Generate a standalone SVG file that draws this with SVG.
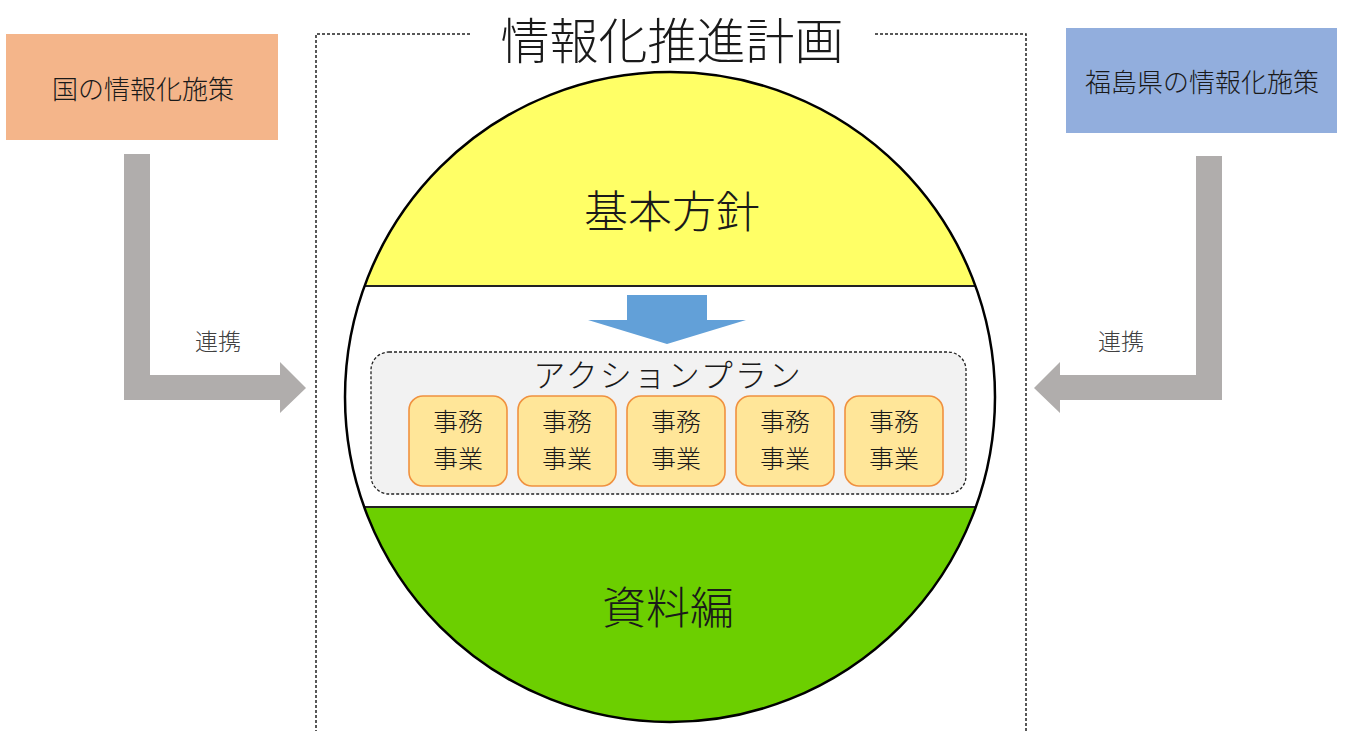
<svg xmlns="http://www.w3.org/2000/svg" width="1347" height="731" viewBox="0 0 1347 731">
<style>
.t{font-family:"Noto Sans CJK JP","Noto Sans CJK SC",sans-serif;font-weight:300;dominant-baseline:central;text-anchor:middle;fill:#1a1a1a}
.link{fill:#B0ADAC}
.task{fill:#FFE699;stroke:#F0913F;stroke-width:1.6}
.dash{fill:none;stroke:#222;stroke-width:1.5;stroke-dasharray:3 2}
</style>
<defs>
<clipPath id="cc"><circle cx="670" cy="397" r="325"/></clipPath>
</defs>
<rect width="1347" height="731" fill="#fff"/>
<g id="frame">
<path class="dash" d="M470 34H316V731M875 34H1026V731"/>
<text class="t" x="672" y="37" font-size="49">情報化推進計画</text>
</g>
<g id="connectors">
<polygon class="link" points="124,154 150,154 150,375 280,375 280,362 306,388 280,413 280,400 124,400"/>
<polygon class="link" points="1222,156 1196,156 1196,375 1060,375 1060,362 1034,388 1060,413 1060,400 1222,400"/>
<text class="t" x="218" y="340" font-size="23" style="fill:#404040">連携</text>
<text class="t" x="1121" y="340" font-size="23" style="fill:#404040">連携</text>
</g>
<g id="national">
<rect x="6" y="34" width="272" height="106" fill="#F4B58A"/>
<text class="t" x="143" y="87" font-size="26">国の情報化施策</text>
</g>
<g id="fukushima">
<rect x="1066" y="28" width="271" height="105" fill="#92AEDD"/>
<text class="t" x="1202" y="80" font-size="26">福島県の情報化施策</text>
</g>
<g id="plan-circle">
<circle cx="670" cy="397" r="325" fill="#fff"/>
<g clip-path="url(#cc)">
<rect x="300" y="60" width="760" height="226" fill="#FFFF66"/>
<rect x="300" y="507" width="760" height="230" fill="#6CCF00"/>
</g>
<line x1="364" y1="286" x2="976" y2="286" stroke="#222" stroke-width="2"/>
<line x1="364" y1="507" x2="976" y2="507" stroke="#222" stroke-width="2"/>
<circle cx="670" cy="397" r="325" fill="none" stroke="#000" stroke-width="2.5"/>
</g>
<g id="basic-policy">
<text class="t" x="672" y="209" font-size="44">基本方針</text>
</g>
<g id="flow-arrow">
<polygon points="627,295 707,295 707,320 746,320 667,344 588,320 627,320" fill="#62A0D8"/>
</g>
<g id="action-plan">
<rect class="dash" x="371" y="352" width="595" height="142" rx="18" style="fill:#F2F2F2;stroke-width:1.3"/>
<text class="t" x="668" y="373" font-size="32" letter-spacing="2">アクションプラン</text>
</g>
<g id="task1"><rect class="task" x="409" y="396" width="98" height="90" rx="14"/><text class="t" font-size="25"><tspan x="458" y="420">事務</tspan><tspan x="458" y="457">事業</tspan></text></g>
<g id="task2"><rect class="task" x="518" y="396" width="98" height="90" rx="14"/><text class="t" font-size="25"><tspan x="567" y="420">事務</tspan><tspan x="567" y="457">事業</tspan></text></g>
<g id="task3"><rect class="task" x="627" y="396" width="98" height="90" rx="14"/><text class="t" font-size="25"><tspan x="676" y="420">事務</tspan><tspan x="676" y="457">事業</tspan></text></g>
<g id="task4"><rect class="task" x="736" y="396" width="98" height="90" rx="14"/><text class="t" font-size="25"><tspan x="785" y="420">事務</tspan><tspan x="785" y="457">事業</tspan></text></g>
<g id="task5"><rect class="task" x="845" y="396" width="98" height="90" rx="14"/><text class="t" font-size="25"><tspan x="894" y="420">事務</tspan><tspan x="894" y="457">事業</tspan></text></g>
<g id="materials">
<text class="t" x="668" y="605" font-size="44">資料編</text>
</g>
</svg>
